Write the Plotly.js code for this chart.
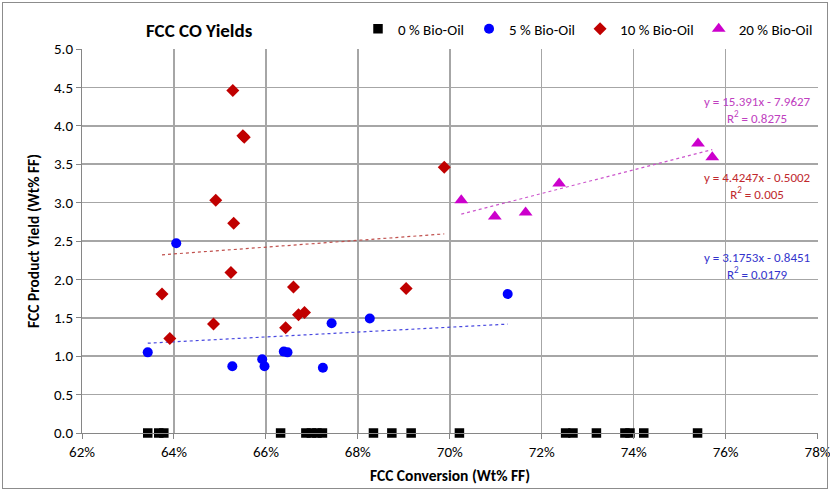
<!DOCTYPE html>
<html><head><meta charset="utf-8">
<script src="https://cdn.plot.ly/plotly-3.0.1.min.js"></script>
<style>
html,body{margin:0;padding:0;background:#fff;}
#wrap{position:absolute;left:2px;top:2px;width:824px;height:485px;border:1px solid #8c8c8c;}
#chart{position:absolute;left:0;top:0;width:830px;height:491px;}
</style></head>
<body>
<div id="chart"></div>
<div id="wrap"></div>
<script>
// ---- data (FCC conversion fraction, CO yield wt% FF) ----
const seriesNames = ["0 % Bio-Oil", "5 % Bio-Oil", "10 % Bio-Oil", "20 % Bio-Oil"];

const x0 = [0.6343, 0.6367, 0.6378, 0.6632, 0.6687, 0.6699, 0.6711, 0.6723, 0.6834, 0.6874,
            0.6916, 0.7021, 0.7252, 0.7268, 0.7319, 0.7381, 0.7392, 0.7422, 0.7539];
const y0 = [0, 0, 0, 0, 0, 0, 0, 0, 0, 0, 0, 0, 0, 0, 0, 0, 0, 0, 0];

const x5 = [0.6343, 0.6405, 0.6527, 0.6592, 0.6597, 0.6639, 0.6647, 0.6724, 0.6743, 0.6826, 0.7126];
const y5 = [1.05, 2.47, 0.87, 0.96, 0.87, 1.06, 1.05, 0.85, 1.43, 1.49, 1.81];

const x10 = [0.6374, 0.6391, 0.6486, 0.6491, 0.6524, 0.6528, 0.6530, 0.6550, 0.6553, 0.6643,
             0.6660, 0.6671, 0.6684, 0.6905, 0.6988];
const y10 = [1.81, 1.23, 1.42, 3.03, 2.09, 4.46, 2.73, 3.87, 3.85, 1.37,
             1.90, 1.54, 1.57, 1.88, 3.46];

const x20 = [0.7025, 0.7098, 0.7165, 0.7238, 0.7540, 0.7571];
const y20 = [3.03, 2.82, 2.87, 3.25, 3.77, 3.59];

// Trendline coefficients (as printed on the chart)
const trendSlope = [3.1753, 4.4247, 15.391];
const trendIntercept = [-0.8451, -0.5002, -7.9627];
const trendR2 = ["0.0179", "0.005", "0.8275"];

const xTickVals = [0.62, 0.64, 0.66, 0.68, 0.70, 0.72, 0.74, 0.76, 0.78];

// ---- styling ----
const FONT = "Carlito, Calibri, 'Liberation Sans Narrow', Lato, sans-serif";
const colBlack = "#000000", colBlue = "#0000FF", colRed = "#C00000", colMag = "#CC00CC";
const txtBlue = "#3333CC", txtRed = "#C0282D", txtMag = "#C040C0";

function trend(xs, i, color) {
  const xmin = Math.min(...xs), xmax = Math.max(...xs);
  return {
    x: [xmin, xmax],
    y: [trendSlope[i]*xmin + trendIntercept[i], trendSlope[i]*xmax + trendIntercept[i]],
    mode: "lines", type: "scatter", showlegend: false, hoverinfo: "skip",
    line: {color: color, width: 1.2, dash: "3px,3px"}
  };
}

const traces = [
  trend(x5, 0, "#4848E0"),
  trend(x10, 1, "#C0504D"),
  trend(x20, 2, "#CC55CC"),
  {x: x0, y: y0, name: seriesNames[0], mode: "markers", type: "scatter",
   marker: {symbol: "square", size: 9.5, color: colBlack}, cliponaxis: false},
  {x: x5, y: y5, name: seriesNames[1], mode: "markers", type: "scatter",
   marker: {symbol: "circle", size: 10, color: colBlue}},
  {x: x10, y: y10, name: seriesNames[2], mode: "markers", type: "scatter",
   marker: {symbol: "diamond", size: 10, color: colRed}},
  {x: x20, y: y20, name: seriesNames[3], mode: "markers", type: "scatter",
   marker: {symbol: "triangle-up", size: 12, color: colMag}}
];

function eqText(i) {
  const b = trendIntercept[i];
  return "y = " + trendSlope[i] + "x " + (b < 0 ? "- " : "+ ") + Math.abs(b) +
         "<br>R<sup>2</sup> = " + trendR2[i];
}

const annotations = [
  {x: 757, y: 110, text: eqText(2), color: txtMag},
  {x: 757, y: 186, text: eqText(1), color: txtRed},
  {x: 757, y: 266, text: eqText(0), color: txtBlue}
].map(a => ({
  xref: "paper", yref: "paper",
  x: (a.x - 82) / 736, y: (433 - a.y) / 384,
  xanchor: "center", yanchor: "middle", align: "center",
  text: a.text, showarrow: false,
  font: {family: FONT, size: 13, color: a.color}
}));

const layout = {
  width: 830, height: 491,
  margin: {l: 82, r: 12, t: 49, b: 58},
  paper_bgcolor: "rgba(0,0,0,0)", plot_bgcolor: "#ffffff",
  font: {family: FONT, size: 14, color: "#000"},
  title: {text: "FCC CO Yields", x: 146 / 830, xanchor: "left", xref: "container",
          y: 1 - 30/491, yanchor: "middle",
          font: {family: FONT, size: 19, weight: 700, color: "#000"}},
  showlegend: true,
  legend: {orientation: "h", x: 1.0, xanchor: "right", y: 1 + 20/384, yanchor: "middle",
           font: {family: FONT, size: 15}, itemwidth: 20, tracegroupgap: 0,
           bgcolor: "rgba(0,0,0,0)"},
  xaxis: {range: [0.62, 0.7801], tickvals: xTickVals, tickformat: ".0%",
          ticklabeloverflow: "allow",
          showgrid: true, gridcolor: "#a6a6a6", gridwidth: 1.5,
          showline: true, linecolor: "#868686", linewidth: 1,
          ticks: "outside", ticklen: 5, tickcolor: "#868686",
          zeroline: false, tickfont: {family: FONT, size: 15},
          title: {text: "FCC Conversion (Wt% FF)", standoff: 10,
                  font: {family: FONT, size: 15.5, weight: 700}}},
  yaxis: {range: [0, 5], dtick: 0.5, tickformat: ".1f",
          showgrid: true, gridcolor: "#a6a6a6", gridwidth: 1.5,
          showline: true, linecolor: "#868686", linewidth: 1,
          ticks: "outside", ticklen: 5, tickcolor: "#868686",
          zeroline: false, tickfont: {family: FONT, size: 15},
          title: {text: "FCC Product Yield (Wt% FF)", standoff: 10,
                  font: {family: FONT, size: 15.5, weight: 700}}},
  annotations: annotations
};

Plotly.newPlot("chart", traces, layout, {displayModeBar: false, staticPlot: true});
</script>
</body></html>
